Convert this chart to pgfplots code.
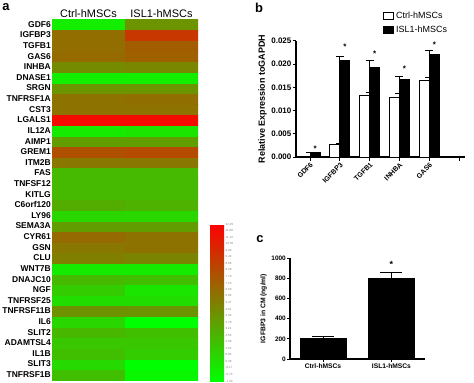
\documentclass[border=0pt]{standalone}
\usepackage{fontspec}
\setmainfont{Liberation Sans}
\usepackage{pgfplots}
\pgfplotsset{compat=1.18}
\begin{document}
\begin{tikzpicture}[x=1bp,y=1bp]
\useasboundingbox (0,0) rectangle (474,382);
% ---------------- panel a: heatmap ----------------
\begin{axis}[
  at={(52bp,2bp)}, anchor=south west,
  scale only axis, width=146bp, height=361bp,
  xmin=-0.5, xmax=1.5, ymin=0.5, ymax=34.5,
  axis line style={draw=none},
  major tick length=0pt,
  xtick={0,1}, xticklabels={Ctrl-hMSCs,ISL1-hMSCs},
  xticklabel pos=upper,
  xticklabel style={font=\fontsize{11}{12}\selectfont, inner sep=1bp},
  ytick={1,...,34},
  yticklabels={TNFRSF1B,SLIT3,IL1B,ADAMTSL4,SLIT2,IL6,TNFRSF11B,TNFRSF25,NGF,DNAJC10,WNT7B,CLU,GSN,CYR61,SEMA3A,LY96,C6orf120,KITLG,TNFSF12,FAS,ITM2B,GREM1,AIMP1,IL12A,LGALS1,CST3,TNFRSF1A,SRGN,DNASE1,INHBA,GAS6,TGFB1,IGFBP3,GDF6},
  yticklabel style={font=\bfseries\fontsize{8.5}{9}\selectfont, inner sep=1bp},
  colormap={rg}{rgb255(0cm)=(0,255,0); rgb255(1cm)=(255,0,0)},
  point meta min=-1.30, point meta max=12.25,
  colorbar,
  colorbar style={
    at={(parent axis.south east)}, anchor=south west,
    xshift=3.5bp, yshift=-1bp,
    scale only axis, width=15bp, height=157bp,
    axis line style={draw=none}, major tick length=0pt,
    ytick={-1.30,-0.73,-0.17,0.39,0.95,1.52,2.08,2.65,3.21,3.78,4.34,4.91,5.47,6.04,6.60,7.16,7.73,8.29,8.86,9.42,9.99,10.55,11.12,11.68,12.25},
    yticklabels={-1.30,-0.73,-0.17,0.39,0.95,1.52,2.08,2.65,3.21,3.78,4.34,4.91,5.47,6.04,6.60,7.16,7.73,8.29,8.86,9.42,9.99,10.55,11.12,11.68,12.25},
    yticklabel style={font=\fontsize{3}{3}\selectfont, text=gray, inner sep=0.5bp},
  },
]
\addplot[matrix plot*, mesh/cols=2, point meta=explicit] table[meta=v] {
x y v
0 1 2.09
1 1 -0.89
0 2 0.73
1 2 -1.30
0 3 2.09
1 3 1.41
0 4 1.68
1 4 1.68
0 5 2.49
1 5 2.09
0 6 0.87
1 6 -1.30
0 7 4.53
1 7 4.39
0 8 0.46
1 8 0.46
0 9 1.41
1 9 0.06
0 10 2.36
1 10 2.09
0 11 -0.22
1 11 -0.22
0 12 5.48
1 12 5.20
0 13 5.88
1 13 6.15
0 14 6.56
1 14 6.15
0 15 3.85
1 15 3.85
0 16 0.87
1 16 0.87
0 17 3.04
1 17 2.77
0 18 2.36
1 18 2.36
0 19 2.36
1 19 2.36
0 20 2.36
1 20 2.36
0 21 5.88
1 21 5.88
0 22 7.91
1 22 8.19
0 23 3.85
1 23 3.85
0 24 -0.22
1 24 0.06
0 25 11.57
1 25 11.57
0 26 6.15
1 26 6.15
0 27 6.15
1 27 6.29
0 28 4.39
1 28 4.39
0 29 -0.35
1 29 -0.35
0 30 4.80
1 30 5.07
0 31 6.56
1 31 7.10
0 32 6.42
1 32 7.24
0 33 6.42
1 33 9.27
0 34 -0.35
1 34 4.39
};
\end{axis}
% ---------------- panel b ----------------
\begin{axis}[
  at={(296bp,225bp)}, anchor=south west,
  scale only axis, width=169bp, height=116bp,
  xmin=0.53, xmax=6.2, ymin=0, ymax=0.025,
  axis lines*=left, axis line style={line width=1.2bp},
  tick align=outside, major tick length=3.5bp, tick style={line width=1bp, black},
  xtick={1,2,3,4,5,6}, xticklabels={GDF6,IGFBP3,TGFB1,INHBA,GAS6,{}},
  xticklabel style={rotate=45, anchor=north east, font=\bfseries\fontsize{7}{8}\selectfont, inner sep=1bp},
  ytick={0,0.005,0.01,0.015,0.02,0.025},
  yticklabels={0.000,0.005,0.010,0.015,0.020,0.025},
  scaled y ticks=false,
  yticklabel style={font=\bfseries\fontsize{8}{9}\selectfont, inner sep=1bp},
  ylabel={Relative Expression toGAPDH},
  ylabel style={font=\bfseries\fontsize{9}{10}\selectfont},
  legend style={draw=none, fill=none, at={(0.515,1.267)}, anchor=north west,
    font=\fontsize{9}{10}\selectfont, row sep=2bp, inner sep=0pt},
  legend cell align=left,
  legend image code/.code={\draw[#1, line width=1bp, draw=black] (0bp,-3.5bp) rectangle (10bp,3.5bp);},
]
\addplot[ybar, bar width=10bp, bar shift=-5bp, fill=white, draw=black, line width=1bp,
  error bars/.cd, y dir=plus, y explicit,
  error bar style={line width=1bp, black},
  error mark options={rotate=90, mark size=4bp, line width=1bp, black}]
  table[x=x, y=y, y error=e] {
x y e
1 0.00005 0.00002
2 0.0028 0.0002
3 0.0132 0.0008
4 0.0129 0.0007
5 0.0164 0.0008
};
\addlegendentry{Ctrl-hMSCs}
\addplot[ybar, bar width=10bp, bar shift=5bp, fill=black, draw=black, line width=1bp,
  error bars/.cd, y dir=plus, y explicit,
  error bar style={line width=1bp, black},
  error mark options={rotate=90, mark size=4bp, line width=1bp, black}]
  table[x=x, y=y, y error=e] {
x y e
1 0.0009 0.0001
2 0.0208 0.0009
3 0.0192 0.0016
4 0.0166 0.0008
5 0.0220 0.0010
};
\addlegendentry{ISL1-hMSCs}
\addplot[only marks, mark=text, text mark={\bfseries\fontsize{8}{8}\selectfont *}]
  coordinates {(1.17,0.0018) (2.17,0.0237) (3.17,0.0223) (4.17,0.0191) (5.17,0.0241)};
\end{axis}
% ---------------- panel c ----------------
\begin{axis}[
  at={(290bp,23bp)}, anchor=south west,
  scale only axis, width=135bp, height=101bp,
  xmin=0.518, xmax=2.49, ymin=0, ymax=1000,
  axis lines*=left, axis line style={line width=1.1bp},
  tick align=outside, major tick length=3bp, tick style={line width=1bp, black},
  xtick={1,2}, xticklabels={Ctrl-hMSCs,ISL1-hMSCs},
  xticklabel style={font=\bfseries\fontsize{6.7}{7}\selectfont, inner sep=1.5bp},
  ytick={0,200,400,600,800,1000}, yticklabels={0,200,400,600,800,1000},
  yticklabel style={font=\bfseries\fontsize{6.5}{7}\selectfont, inner sep=1bp},
  ylabel={IGFBP3 in CM (ng/ml)},
  ylabel style={font=\bfseries\fontsize{6.8}{7}\selectfont},
]
\addplot[ybar, bar width=46bp, bar shift=0pt, fill=black, draw=black, line width=1bp,
  error bars/.cd, y dir=plus, y explicit,
  error bar style={line width=1bp, black},
  error mark options={rotate=90, mark size=11bp, line width=1bp, black}]
  table[x=x, y=y, y error=e] {
x y e
1 205 15
2 794 65
};
\addplot[only marks, mark=text, text mark={\bfseries\fontsize{9}{9}\selectfont *}]
  coordinates {(2,935)};
\end{axis}
% panel letters
\node[font=\bfseries\fontsize{13}{13}\selectfont] at (6,375) {a};
\node[font=\bfseries\fontsize{13}{13}\selectfont] at (259,374) {b};
\node[font=\bfseries\fontsize{13}{13}\selectfont] at (260,143) {c};
\end{tikzpicture}
\end{document}
